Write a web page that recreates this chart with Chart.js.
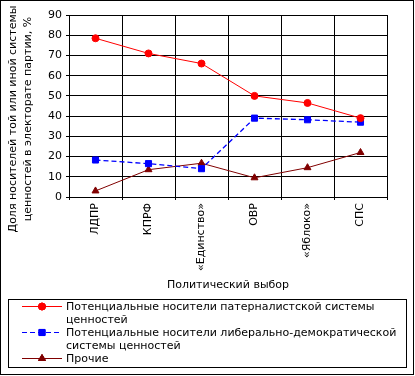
<!DOCTYPE html>
<html>
<head>
<meta charset="utf-8">
<script src="https://cdn.jsdelivr.net/npm/chart.js@4/dist/chart.umd.min.js"></script>
<style>
  html, body { margin: 0; padding: 0; background: #fff; }
  #frame { position: absolute; left: 0; top: 0; width: 412px; height: 373px; border: 1px solid #000; }
  #wrap { position: absolute; left: 0; top: 0; width: 415px; height: 296px; }
  #legend { position: absolute; left: 8px; top: 299px; width: 397px; height: 67px; border: 1px solid #000;
            font-family: "DejaVu Sans", sans-serif; font-size: 11px; line-height: 13px; color: #000; }
  .item { display: flex; align-items: flex-start; }
  .item canvas { margin-left: 13px; margin-right: 4px; flex: none; }
  .item span { white-space: nowrap; }
</style>
</head>
<body>
<div id="frame"></div>
<div id="wrap"><canvas id="c"></canvas></div>
<div id="legend"></div>
<script>
const categories = ['ЛДПР', 'КПРФ', '«Единство»', 'ОВР', '«Яблоко»', 'СПС'];
const paternalist = [78.5, 71, 66, 50, 46.5, 39];
const liberal = [18.3, 16.5, 14, 39, 38.2, 37];
const others = [3, 13.5, 16.7, 9.5, 14.5, 22];
const seriesNames = [
  ['Потенциальные носители патерналистской системы', 'ценностей'],
  ['Потенциальные носители либерально-демократической', 'системы ценностей'],
  ['Прочие']
];
const yTitle = ['Доля носителей той или иной системы', 'ценностей в электорате партии, %'];
const xTitle = 'Политический выбор';

const FONT = '"DejaVu Sans", sans-serif';

const yTitlePlugin = {
  id: 'yTitle',
  afterDraw(chart) {
    const ctx = chart.ctx;
    const a = chart.chartArea;
    ctx.save();
    ctx.font = '11px ' + FONT;
    ctx.fillStyle = '#000';
    ctx.textAlign = 'center';
    ctx.textBaseline = 'middle';
    const cy = (a.top + a.bottom) / 2 + 13;
    yTitle.forEach((t, i) => {
      ctx.save();
      ctx.translate(13 + i * 15, cy);
      ctx.rotate(-Math.PI / 2);
      ctx.fillText(t, 0, 0);
      ctx.restore();
    });
    ctx.restore();
  }
};

const datasets = [
  { label: seriesNames[0].join(' '), data: paternalist, borderColor: '#ff0000', backgroundColor: '#ff0000',
    pointStyle: 'circle', pointRadius: 3.5, borderWidth: 1 },
  { label: seriesNames[1].join(' '), data: liberal, borderColor: '#0000ff', backgroundColor: '#0000ff',
    pointStyle: 'rect', pointRadius: 4.3, borderWidth: 1.3, borderDash: [5, 3] },
  { label: seriesNames[2].join(' '), data: others, borderColor: '#800000', backgroundColor: '#800000',
    pointStyle: 'triangle', pointRadius: 4, borderWidth: 1 }
];
datasets.forEach(d => { d.pointBorderWidth = 1; d.tension = 0; d.fill = false; d.pointHoverRadius = d.pointRadius; });

const chart = new Chart(document.getElementById('c'), {
  type: 'line',
  data: { labels: categories, datasets },
  options: {
    responsive: true,
    maintainAspectRatio: false,
    animation: false,
    events: [],
    layout: { padding: { left: 0, right: 28, top: 15, bottom: 0 } },
    plugins: { legend: { display: false }, tooltip: { enabled: false } },
    scales: {
      x: {
        type: 'category',
        offset: true,
        grid: {
          offset: true,
          color: ctx => ctx.index === categories.length ? 'rgba(0,0,0,0)' : '#000',
          tickColor: '#000',
          tickLength: 3,
          lineWidth: 1
        },
        border: { color: '#000', width: 1 },
        ticks: { color: '#000', font: { family: FONT, size: 11 }, minRotation: 90, maxRotation: 90, padding: 3, autoSkip: false },
        title: { display: true, text: xTitle, color: '#000', font: { family: FONT, size: 11 }, padding: { top: 0, bottom: 4 } },
        afterFit: s => { s.height = 99; }
      },
      y: {
        min: 0, max: 90,
        grid: { color: '#000', tickColor: '#000', tickLength: 3, lineWidth: 1 },
        border: { color: '#000', width: 1 },
        ticks: { stepSize: 10, color: '#000', font: { family: FONT, size: 11 }, padding: 4 },
        afterFit: s => { s.width = 69; }
      }
    }
  },
  plugins: [yTitlePlugin]
});

// HTML legend built from the chart datasets
const legend = document.getElementById('legend');
chart.data.datasets.forEach((d, i) => {
  const item = document.createElement('div');
  item.className = 'item';
  const cv = document.createElement('canvas');
  cv.width = 40; cv.height = 13;
  const g = cv.getContext('2d');
  g.strokeStyle = d.borderColor;
  g.lineWidth = 1;
  g.setLineDash(d.borderDash || []);
  g.beginPath(); g.moveTo(0, 6.5); g.lineTo(40, 6.5); g.stroke();
  g.setLineDash([]);
  Chart.helpers.drawPoint(g, { pointStyle: d.pointStyle, radius: d.pointRadius, borderWidth: 1, rotation: 0 }, 20, 6.5);
  g.fillStyle = d.backgroundColor;
  g.fill();
  g.stroke();
  item.appendChild(cv);
  const sp = document.createElement('span');
  sp.innerHTML = seriesNames[i].join('<br>');
  item.appendChild(sp);
  legend.appendChild(item);
});
</script>
</body>
</html>
